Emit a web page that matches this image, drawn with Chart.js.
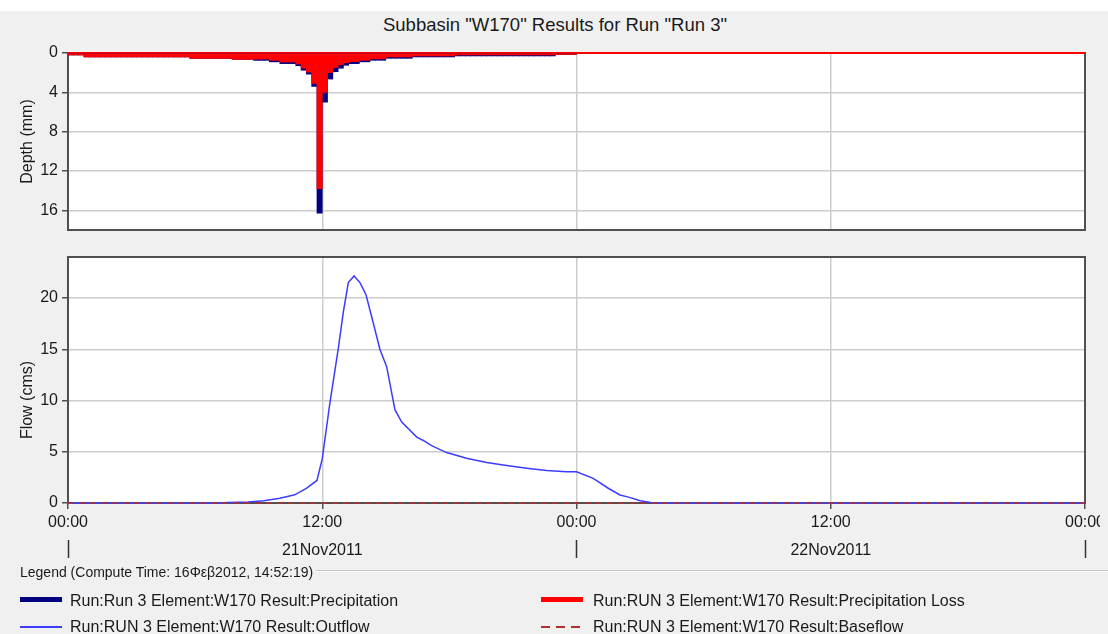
<!DOCTYPE html>
<html>
<head>
<meta charset="utf-8">
<script src="https://cdn.jsdelivr.net/npm/chart.js@4.4.1/dist/chart.umd.min.js"></script>
<style>
  html, body { margin: 0; padding: 0; }
  body {
    width: 1108px; height: 634px; position: relative; overflow: hidden;
    background: #f0f0f0; color: #1a1a1a;
    font-family: "Liberation Sans", Arial, sans-serif;
  }
  #strip { position: absolute; left: 0; top: 0; width: 1108px; height: 11px; background: #fff; }
  #title { position: absolute; left: 0; top: 14px; width: 1110px; text-align: center; font-size: 18.5px; line-height: 22px; }
  .box { position: absolute; left: 0; width: 1100px; overflow: hidden; }
  #depthBox { top: 40px; height: 200px; }
  #flowBox { top: 245px; height: 320px; }
  #legendHead { position: absolute; left: 20px; top: 563px; font-size: 14px; line-height: 18px; }
  #legendRule { position: absolute; left: 316px; right: 0; top: 570px; border-top: 1px solid #c8c8c8; border-bottom: 1px solid #fff; }
  .item { position: absolute; font-size: 16px; line-height: 18px; white-space: nowrap; }
  .swatch { position: absolute; width: 42px; }
</style>
</head>
<body>
<div id="strip"></div>
<div id="title">Subbasin "W170" Results for Run "Run 3"</div>
<div class="box" id="depthBox"><canvas id="depthChart"></canvas></div>
<div class="box" id="flowBox"><canvas id="flowChart"></canvas></div>

<div id="legendHead">Legend (Compute Time: 16Φεβ2012, 14:52:19)</div>
<div id="legendRule"></div>

<div class="swatch" style="left:20px; top:597px; height:5px; background:#000080;"></div>
<div class="item" style="left:70px; top:592px;">Run:Run 3 Element:W170 Result:Precipitation</div>
<div class="swatch" style="left:541px; top:597px; height:5px; background:#ff0000;"></div>
<div class="item" style="left:593px; top:592px;">Run:RUN 3 Element:W170 Result:Precipitation Loss</div>
<div class="swatch" style="left:20px; top:626px; height:2px; background:#3c3cff;"></div>
<div class="item" style="left:70px; top:618px;">Run:RUN 3 Element:W170 Result:Outflow</div>
<div class="swatch" style="left:541px; top:626px; height:2px; background:repeating-linear-gradient(to right, #b03030 0 9px, transparent 9px 15px);"></div>
<div class="item" style="left:593px; top:618px;">Run:RUN 3 Element:W170 Result:Baseflow</div>

<script>
// time axis in hours from 00:00 21Nov2011
const hourTicks = [0, 12, 24, 36, 48];
const hourLabels = ["00:00", "12:00", "00:00", "12:00", "00:00"];
const dayTicks = [12, 36];
const dayLabels = ["21Nov2011", "22Nov2011"];

// 15-minute depths (mm), one line per hour
const stepHours = 0.25;
const precipitation = [
    0.2, 0.2, 0.2, 0.4,
    0.4, 0.4, 0.4, 0.4,
    0.4, 0.4, 0.4, 0.4,
    0.4, 0.4, 0.4, 0.4,
    0.4, 0.4, 0.4, 0.4,
    0.4, 0.4, 0.4, 0.55,
    0.55, 0.55, 0.55, 0.55,
    0.55, 0.55, 0.55, 0.65,
    0.65, 0.65, 0.65, 0.75,
    0.75, 0.75, 0.9, 0.9,
    1.08, 1.08, 1.08, 1.3,
    1.75, 2.15, 3.4, 16.3,
    5.0, 2.65, 1.9, 1.55,
    1.25, 1.08, 1.08, 0.9,
    0.9, 0.74, 0.74, 0.74,
    0.54, 0.54, 0.54, 0.54,
    0.54, 0.4, 0.4, 0.4,
    0.4, 0.4, 0.4, 0.4,
    0.4, 0.3, 0.3, 0.3,
    0.3, 0.3, 0.3, 0.3,
    0.3, 0.3, 0.3, 0.3,
    0.3, 0.3, 0.3, 0.3,
    0.3, 0.3, 0.3, 0.3,
    0.15, 0.15, 0.15, 0.15
];
const precipLoss = [
    0.2, 0.2, 0.2, 0.4,
    0.4, 0.4, 0.4, 0.4,
    0.4, 0.4, 0.4, 0.4,
    0.4, 0.4, 0.4, 0.4,
    0.4, 0.4, 0.4, 0.4,
    0.4, 0.4, 0.4, 0.55,
    0.55, 0.55, 0.55, 0.55,
    0.55, 0.55, 0.55, 0.65,
    0.65, 0.65, 0.65, 0.62,
    0.62, 0.62, 0.75, 0.75,
    0.92, 0.92, 0.92, 1.12,
    1.55, 1.95, 3.1, 13.8,
    4.0, 2.0, 1.48, 1.2,
    1.0, 0.88, 0.88, 0.74,
    0.74, 0.6, 0.6, 0.6,
    0.4, 0.4, 0.4, 0.4,
    0.4, 0.3, 0.3, 0.3,
    0.3, 0.3, 0.3, 0.3,
    0.3, 0.2, 0.2, 0.2,
    0.2, 0.2, 0.2, 0.2,
    0.2, 0.2, 0.2, 0.2,
    0.2, 0.2, 0.2, 0.2,
    0.2, 0.2, 0.2, 0.2,
    0.15, 0.15, 0.15, 0.15
];
const depthTicks = [0, 2, 4, 6, 8, 10, 12, 14, 16];

// outflow hydrograph (cms)
const flowHours = [0, 7.25, 7.5, 8.5, 9.25, 10.0, 10.7, 11.25, 11.75, 12.0, 12.36, 12.76, 13.0, 13.23, 13.5,
    13.78, 14.06, 14.33, 14.72, 15.04, 15.43, 15.75, 16.46, 16.77, 17.16, 17.87, 18.81, 19.76, 20.7,
    21.65, 22.59, 23.53, 24.0, 24.79, 25.5, 26.05, 26.5, 27.0, 27.5, 28.0, 48];
const outflow = [0, 0, 0.06, 0.1, 0.22, 0.46, 0.8, 1.43, 2.2, 4.3, 9.75, 15.1, 18.7, 21.5, 22.15,
    21.5, 20.35, 18.2, 15.0, 13.3, 9.1, 7.9, 6.43, 6.1, 5.6, 4.92, 4.37, 3.95, 3.65,
    3.39, 3.16, 3.06, 3.05, 2.41, 1.44, 0.78, 0.55, 0.22, 0.05, 0, 0];
const baseHours = [0, 48];
const baseflow = [0, 0];
const flowTicks = [0, 5, 10, 15, 20];

const gridColor = "#cccccc";
const clear = "rgba(0,0,0,0)";
const textColor = "#1a1a1a";
const font16 = { family: "Liberation Sans", size: 16 };

// white plot area with a dark frame, optional coloured top edge
const frame = {
    id: "frame",
    beforeDraw(chart) {
        const { ctx, chartArea: a } = chart;
        ctx.save();
        ctx.fillStyle = "#ffffff";
        ctx.fillRect(a.left, a.top, a.right - a.left, a.bottom - a.top);
        ctx.restore();
    },
    beforeDatasetsDraw(chart, args, opts) {
        const { ctx, chartArea: a } = chart;
        ctx.save();
        ctx.lineWidth = 2;
        ctx.strokeStyle = "#505050";
        ctx.strokeRect(a.left, a.top, a.right - a.left, a.bottom - a.top);
        if (opts.topColor) {
            ctx.strokeStyle = opts.topColor;
            ctx.beginPath();
            ctx.moveTo(a.left - 1, a.top);
            ctx.lineTo(a.right + 1, a.top);
            ctx.stroke();
        }
        ctx.restore();
    }
};

function edgeGrid(ends) {
    return ctx => (ctx.tick && ends.includes(ctx.tick.value)) ? clear : gridColor;
}

function setTicks(list) {
    return scale => { scale.ticks = list.map(v => ({ value: v })); };
}

function noPad(h) {
    return scale => {
        scale.paddingLeft = 0;
        scale.paddingRight = 0;
        if (h !== undefined) scale.height = h;
    };
}

function fixedWidth(w) {
    return scale => {
        scale.width = w;
        scale.paddingTop = 0;
        scale.paddingBottom = 0;
    };
}

Chart.defaults.font.family = "Liberation Sans";
Chart.defaults.color = textColor;

const toPoints = vals => vals.map((v, i) => ({ x: i * stepHours + stepHours / 2, y: v }));

new Chart(document.getElementById("depthChart"), {
    type: "bar",
    data: {
        datasets: [
            {
                label: "Run:RUN 3 Element:W170 Result:Precipitation Loss",
                data: toPoints(precipLoss),
                backgroundColor: "#ff0000",
                grouped: false, barPercentage: 1, categoryPercentage: 1, borderWidth: 0
            },
            {
                label: "Run:Run 3 Element:W170 Result:Precipitation",
                data: toPoints(precipitation),
                backgroundColor: "#000080",
                grouped: false, barPercentage: 1, categoryPercentage: 1, borderWidth: 0
            }
        ]
    },
    options: {
        responsive: true,
        maintainAspectRatio: false,
        animation: false,
        layout: { padding: { top: 13, right: 15, bottom: 10, left: 0 } },
        plugins: { legend: { display: false }, tooltip: { enabled: false }, frame: { topColor: "#ff0000" } },
        scales: {
            x: {
                type: "linear", min: 0, max: 48, offset: false,
                afterBuildTicks: setTicks(hourTicks),
                afterFit: noPad(0),
                ticks: { display: false },
                grid: { color: edgeGrid([0, 48]), drawTicks: false, lineWidth: 1.5, offset: false },
                border: { display: false }
            },
            y: {
                reverse: true, min: 0, max: 18,
                afterBuildTicks: setTicks(depthTicks),
                afterFit: fixedWidth(68),
                ticks: { font: font16, padding: 4, callback: v => (v % 4 === 0 ? v : "") },
                grid: { color: edgeGrid([0, 18]), lineWidth: 1.5, tickLength: 6, tickColor: "#505050" },
                border: { display: false },
                title: { display: true, text: "Depth (mm)", font: font16, padding: { top: 18, bottom: 0 } }
            }
        }
    },
    plugins: [frame]
});

const pairs = (xs, ys) => xs.map((x, i) => ({ x: x, y: ys[i] }));

new Chart(document.getElementById("flowChart"), {
    type: "line",
    data: {
        datasets: [
            {
                label: "Run:RUN 3 Element:W170 Result:Baseflow",
                data: pairs(baseHours, baseflow),
                borderColor: "#b03030", borderWidth: 1.5, borderDash: [6, 5],
                pointRadius: 0, clip: false
            },
            {
                label: "Run:RUN 3 Element:W170 Result:Outflow",
                data: pairs(flowHours, outflow),
                borderColor: "#3c3cff", borderWidth: 1.5,
                pointRadius: 0, tension: 0, clip: false
            }
        ]
    },
    options: {
        responsive: true,
        maintainAspectRatio: false,
        animation: false,
        layout: { padding: { top: 12, right: 15, bottom: 0, left: 0 } },
        plugins: { legend: { display: false }, tooltip: { enabled: false } },
        scales: {
            x: {
                type: "linear", min: 0, max: 48, weight: 0,
                afterBuildTicks: setTicks(hourTicks),
                afterFit: noPad(37),
                ticks: {
                    font: font16, padding: 4, autoSkip: false, maxRotation: 0,
                    callback: v => hourLabels[hourTicks.indexOf(v)]
                },
                grid: { color: edgeGrid([0, 48]), lineWidth: 1.5, tickLength: 6, tickColor: "#505050" },
                border: { display: false }
            },
            x2: {
                type: "linear", position: "bottom", min: 0, max: 48, weight: 1,
                afterBuildTicks: setTicks(hourTicks),
                afterFit: noPad(25),
                ticks: {
                    font: font16, padding: -17, autoSkip: false, maxRotation: 0,
                    callback: v => (dayTicks.includes(v) ? dayLabels[dayTicks.indexOf(v)] : "")
                },
                grid: {
                    drawOnChartArea: false, tickLength: 18, tickWidth: 1.5,
                    tickColor: ctx => ((ctx.tick && ctx.tick.value % 24 === 0) ? "#333333" : clear)
                },
                border: { display: false }
            },
            y: {
                min: 0, max: 24,
                afterBuildTicks: setTicks(flowTicks),
                afterFit: fixedWidth(68),
                ticks: { font: font16, padding: 4 },
                grid: { color: edgeGrid([0]), lineWidth: 1.5, tickLength: 6, tickColor: "#505050" },
                border: { display: false },
                // trailing spaces push the centred label down, as in the original
                title: {
                    display: true, text: "Flow (cms)" + "\u00a0".repeat(9),
                    font: font16, padding: { top: 18, bottom: 0 }
                }
            }
        }
    },
    plugins: [frame]
});
</script>
</body>
</html>
